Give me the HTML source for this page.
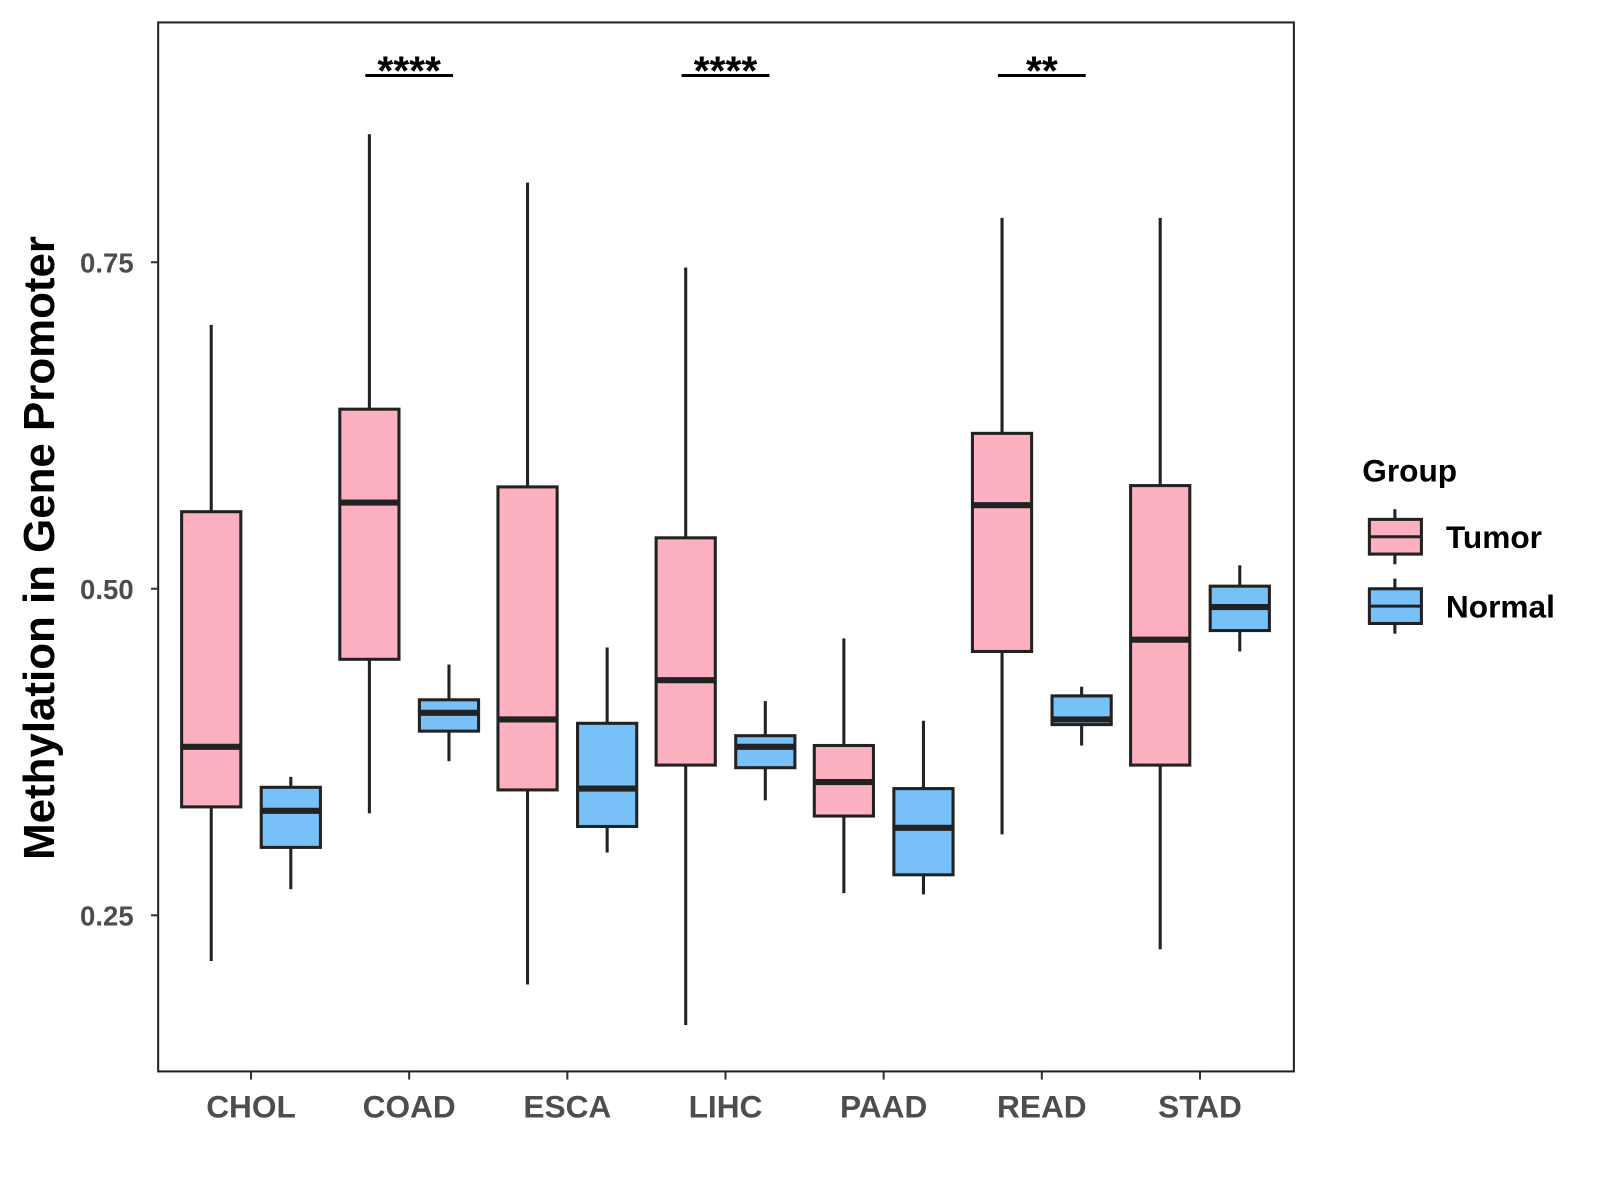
<!DOCTYPE html>
<html><head><meta charset="utf-8"><style>
html,body{margin:0;padding:0;background:#fff;}
svg{display:block;font-family:"Liberation Sans",Arial,sans-serif;}
</style></head><body>
<svg width="1600" height="1200" viewBox="0 0 1600 1200" xmlns="http://www.w3.org/2000/svg">
<g id="chart" transform="scale(1.0204)">
<rect x="155" y="22" width="1113" height="1028" fill="#fff" stroke="#222" stroke-width="2"/>
<g id="marks"></g>
<text transform="translate(53,537) rotate(-90)" text-anchor="middle" font-size="43" font-weight="bold" fill="#000">Methylation in Gene Promoter</text>
<text x="1335" y="472" font-size="31" font-weight="bold" fill="#000">Group</text>
</g>
</svg>
<script>
const categories = ["CHOL","COAD","ESCA","LIHC","PAAD","READ","STAD"];
// [lower whisker, q1, median, q3, upper whisker]
const tumorStats = [
 [0.215,0.333,0.379,0.559,0.702],
 [0.328,0.446,0.566,0.6375,0.848],
 [0.197,0.346,0.400,0.578,0.811],
 [0.166,0.365,0.430,0.539,0.746],
 [0.267,0.326,0.352,0.380,0.462],
 [0.312,0.452,0.564,0.619,0.784],
 [0.224,0.365,0.461,0.579,0.784]
];
const normalStats = [
 [0.270,0.302,0.330,0.348,0.356],
 [0.368,0.391,0.405,0.415,0.442],
 [0.298,0.318,0.347,0.397,0.455],
 [0.338,0.363,0.379,0.3875,0.414],
 [0.266,0.281,0.317,0.347,0.399],
 [0.380,0.396,0.400,0.418,0.425],
 [0.452,0.468,0.486,0.502,0.518]
];
const yTicks = [0.25,0.50,0.75];
const yTickLabels = ["0.25","0.50","0.75"];
const sigCategories = ["COAD","LIHC","READ"];
const sigLabels = ["****","****","**"];
const sigLevel = 0.893;

const NS="http://www.w3.org/2000/svg";
const svg=document.getElementById('chart');
const g=document.getElementById('marks');
const y=v=>577-(v-0.5)*1280;
const x=i=>246+i*155;
const OFF=39, BW=58;
function el(tag,attrs,parent){const e=document.createElementNS(NS,tag);for(const k in attrs)e.setAttribute(k,attrs[k]);(parent||g).appendChild(e);return e;}

yTicks.forEach((t,i)=>{
  const tk=el('line',{x1:148,x2:155,y1:y(t),y2:y(t),stroke:'#333','stroke-width':2});
  
  
  const tx=el('text',{x:131,y:y(t)+10,'text-anchor':'end','font-size':27,'font-weight':'bold',fill:'#4d4d4d'});
  tx.textContent=yTickLabels[i];
  
  
});
categories.forEach((c,i)=>{
  const tk=el('line',{x1:x(i),x2:x(i),y1:1050,y2:1058,stroke:'#333','stroke-width':2});
  
  
  const tx=el('text',{x:x(i),y:1095,'text-anchor':'middle','font-size':31,'font-weight':'bold',fill:'#4d4d4d'});
  tx.textContent=c;
  
  
});
function box(cx,s,fill,name){
  const grp=el('g',{});
  
  
  el('line',{x1:cx,x2:cx,y1:y(s[4]),y2:y(s[3]),stroke:'#222','stroke-width':3},grp);
  el('line',{x1:cx,x2:cx,y1:y(s[1]),y2:y(s[0]),stroke:'#222','stroke-width':3},grp);
  el('rect',{x:cx-BW/2,y:y(s[3]),width:BW,height:y(s[1])-y(s[3]),fill:fill,stroke:'#222','stroke-width':3},grp);
  el('line',{x1:cx-BW/2,x2:cx+BW/2,y1:y(s[2]),y2:y(s[2]),stroke:'#222','stroke-width':6},grp);
}
categories.forEach((c,i)=>{
  box(x(i)-OFF,tumorStats[i],'#fdb0c0','tumor-box-'+c.toLowerCase());
  box(x(i)+OFF,normalStats[i],'#77c1f8','normal-box-'+c.toLowerCase());
});
sigCategories.forEach((c,j)=>{
  const i=categories.indexOf(c);
  const ln=el('line',{x1:x(i)-43,x2:x(i)+43,y1:y(sigLevel),y2:y(sigLevel),stroke:'#000','stroke-width':3});
  
  
  const tx=el('text',{x:x(i),y:y(sigLevel)+9,'text-anchor':'middle','font-size':40,'font-weight':'bold',fill:'#000'});
  tx.textContent=sigLabels[j];
  
  
});
// legend
[["Tumor",'#fdb0c0',526],["Normal",'#77c1f8',594]].forEach(([lab,fill,cy])=>{
  const grp=el('g',{},svg);
  
  
  el('line',{x1:1367,x2:1367,y1:cy-27,y2:cy+27,stroke:'#222','stroke-width':3},grp);
  el('rect',{x:1342,y:cy-17,width:51,height:34,fill:fill,stroke:'#222','stroke-width':3},grp);
  el('line',{x1:1342,x2:1393,y1:cy,y2:cy,stroke:'#222','stroke-width':3},grp);
  const t=el('text',{x:1417,y:cy+11,'font-size':31,'font-weight':'bold',fill:'#000'},grp);
  t.textContent=lab;
});
</script>
</body></html>
